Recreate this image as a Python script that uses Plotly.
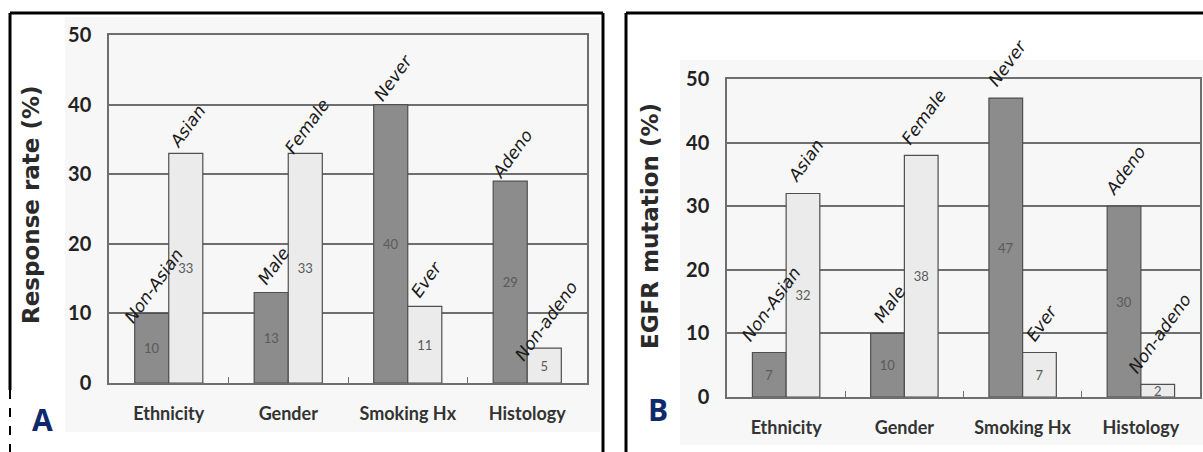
import plotly.graph_objects as go

# ---------------- data ----------------
categories = ["Ethnicity", "Gender", "Smoking Hx", "Histology"]
dark_labels = ["Non-Asian", "Male", "Never", "Adeno"]
light_labels = ["Asian", "Female", "Ever", "Non-adeno"]

# Panel A: response rate (%)
a_dark = [10, 13, 40, 29]
a_light = [33, 33, 11, 5]
# Panel B: EGFR mutation (%)
b_dark = [7, 10, 47, 30]
b_light = [32, 38, 7, 2]

y_ticks = [0, 10, 20, 30, 40, 50]
a_title = "Response rate (%)"
b_title = "EGFR mutation (%)"

# ---------------- layout helpers ----------------
W, H = 1203, 452


def px(x):
    return x / W


def py(y):
    return 1 - y / H


DARK = "#8c8c8c"
LIGHT = "#ebebeb"
EDGE = "#4f4f4f"
GRID = "#6e6e6e"
NARROW = "Liberation Sans Narrow, Lato, Liberation Sans, sans-serif"

fig = go.Figure()

panels = [
    dict(dark=a_dark, light=a_light, xa="x", ya="y"),
    dict(dark=b_dark, light=b_light, xa="x2", ya="y2"),
]

for p in panels:
    for vals, col, grp in [(p["dark"], DARK, "d"), (p["light"], LIGHT, "l")]:
        fig.add_trace(go.Bar(
            x=categories, y=vals, xaxis=p["xa"], yaxis=p["ya"],
            offsetgroup=grp, showlegend=False,
            marker=dict(color=col, line=dict(color=EDGE, width=1.2)),
            text=[str(v) for v in vals], textposition="inside",
            insidetextanchor="middle", textangle=0,
            textfont=dict(family=NARROW, size=13, color="#5a5a5a"),
            hoverinfo="x+y",
        ))

annotations = []
label_font = dict(family="DejaVu Sans, Verdana, sans-serif", size=17,
                  color="#1a1a1a", style="italic")
for p, yanchor, yshift in [(panels[0], "middle", 27), (panels[1], "bottom", 5)]:
    for i, cat in enumerate(categories):
        for vals, labels, xs in [(p["dark"], dark_labels, -17), (p["light"], light_labels, 17)]:
            annotations.append(dict(
                x=cat, y=vals[i], xref=p["xa"], yref=p["ya"],
                text=labels[i], showarrow=False, textangle=-54,
                xanchor="center", yanchor=yanchor,
                xshift=xs + 2, yshift=yshift, font=label_font,
            ))

# axis titles
title_font = dict(family="DejaVu Sans, Verdana, sans-serif", size=23,
                  color="#2a2a2a", weight="bold")
for t, x, y in [(a_title, 31, 205), (b_title, 650, 226)]:
    annotations.append(dict(x=px(x), y=py(y), xref="paper", yref="paper",
                            xanchor="center", yanchor="middle",
                            text=t, textangle=-90, showarrow=False,
                            font=title_font))
# panel letters
for t, x, y in [("A", 42, 419), ("B", 658, 409)]:
    annotations.append(dict(x=px(x), y=py(y), xref="paper", yref="paper",
                            xanchor="center", yanchor="middle",
                            text=t, showarrow=False,
                            font=dict(family="Open Sans, DejaVu Sans, sans-serif", size=30,
                                      color="#0f2a6b", weight="bold")))

shapes = []
# faint background of the original chart images
shapes.append(dict(type="rect", xref="paper", yref="paper", layer="below",
                   x0=px(65), x1=px(600), y0=py(432), y1=py(17),
                   fillcolor="#f7f7f7", line=dict(width=0)))
shapes.append(dict(type="rect", xref="paper", yref="paper", layer="below",
                   x0=px(680), x1=px(1203), y0=py(445), y1=py(60),
                   fillcolor="#f7f7f7", line=dict(width=0)))
# black frames
for x0, y0, x1, y1, dash in [
    (10, 13, 603, 13, "solid"),
    (10, 13, 10, 390, "solid"),
    (10, 390, 10, 452, "dash"),
    (603, 13, 603, 452, "solid"),
    (626, 13, 1203, 13, "solid"),
    (626, 13, 626, 452, "solid"),
]:
    shapes.append(dict(type="line", xref="paper", yref="paper",
                       x0=px(x0), y0=py(y0), x1=px(x1), y1=py(y1),
                       line=dict(color="black", width=3 if dash == "solid" else 2,
                                 dash=dash)))

xaxis_common = dict(
    type="category", tickson="boundaries", ticks="inside", ticklen=6,
    tickcolor=GRID, tickwidth=1.2, tickangle=0, automargin=False,
    showline=True, linecolor=GRID, linewidth=1.5, mirror=True,
    showgrid=False, zeroline=False,
    tickfont=dict(family=NARROW, size=18, color="#333333", weight="bold"),
    ticklabelstandoff=14, fixedrange=True,
)
yaxis_common = dict(
    range=[0, 50], tickvals=y_ticks, ticks="", automargin=False,
    showline=True, linecolor=GRID, linewidth=1.5, mirror=True,
    showgrid=True, gridcolor=GRID, gridwidth=1.5, zeroline=False,
    tickfont=dict(family=NARROW, size=20, color="#222222", weight="bold"),
    ticklabelstandoff=12, fixedrange=True,
)

fig.update_layout(
    width=W, height=H,
    margin=dict(l=0, r=0, t=0, b=0, autoexpand=False),
    paper_bgcolor="white", plot_bgcolor="white",
    barmode="group", bargap=0.43, bargroupgap=0,
    uniformtext=dict(minsize=13, mode="show"),
    xaxis=dict(domain=[px(109), px(587)], anchor="y", **xaxis_common),
    yaxis=dict(domain=[py(383), py(35)], anchor="x", **yaxis_common),
    xaxis2=dict(domain=[px(727), px(1200)], anchor="y2", **xaxis_common),
    yaxis2=dict(domain=[py(397), py(79)], anchor="x2", **yaxis_common),
    annotations=annotations,
    shapes=shapes,
)

fig.write_html(
    "out.html",
    config={"displayModeBar": False},
    post_script="document.body.style.margin='0';document.body.style.overflow='hidden';",
)
